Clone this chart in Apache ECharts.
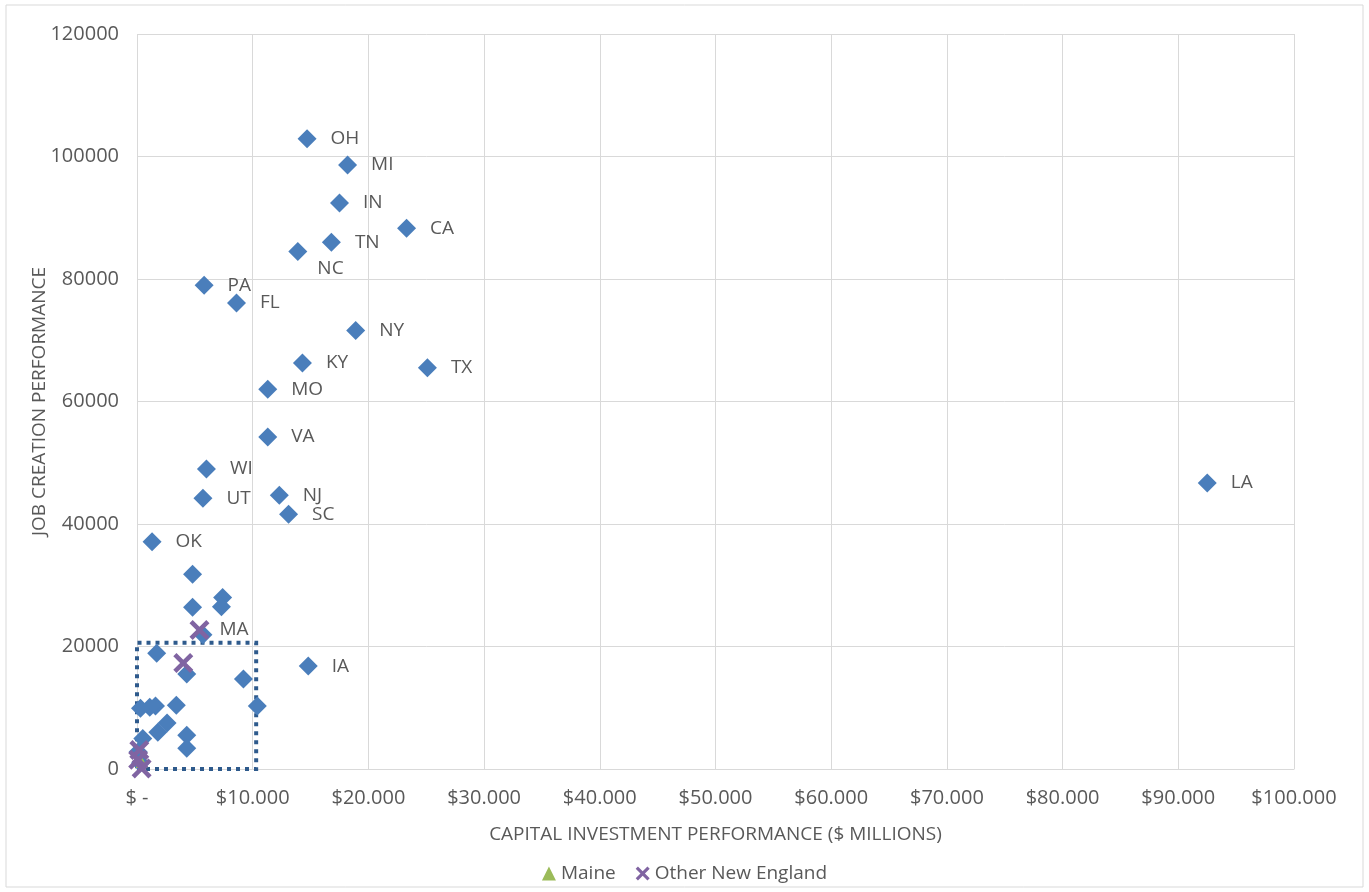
<!DOCTYPE html>
<html>
<head>
<meta charset="utf-8">
<script src="https://cdn.jsdelivr.net/npm/echarts@6/dist/echarts.min.js"></script>
<style>
html, body { margin: 0; padding: 0; background: #fff; }
#chart { width: 1369px; height: 892px; }
</style>
</head>
<body>
<div id="chart"></div>
<script>
// states with a label (empty string = unlabeled point)
var stateNames = ['OH', 'MI', 'IN', 'CA', 'TN', 'NC', 'PA', 'FL', 'NY', 'KY', 'TX', 'MO', 'VA', 'WI', 'UT', 'NJ', 'SC', 'OK', 'LA', 'IA',
	'', '', '', '', '', '', '', '', '', '', '', '', '', '', '', '', '', '', '', ''];
var stateCapital = [14.7, 18.2, 17.5, 23.3, 16.8, 13.9, 5.8, 8.6, 18.9, 14.3, 25.1, 11.3, 11.3, 6.0, 5.7, 12.3, 13.1, 1.3, 92.5, 14.8,
	4.8, 7.4, 7.3, 4.8, 5.7, 1.7, 4.3, 9.2, 10.4, 3.4, 1.6, 1.1, 0.3, 2.6, 1.8, 4.3, 4.3, 0.5, 0.3, 0.1];
var stateJobs = [102900, 98600, 92400, 88300, 86000, 84500, 79000, 76100, 71600, 66300, 65500, 62000, 54200, 49000, 44200, 44700, 41600, 37100, 46700, 16800,
	31800, 28000, 26500, 26400, 21900, 18900, 15500, 14700, 10300, 10400, 10300, 10100, 9900, 7500, 6000, 5500, 3400, 5000, 1000, 2800];

var maineCapital = [0.4];
var maineJobs = [1150];

var neNames = ['MA', '', '', '', ''];
var neCapital = [5.4, 4.0, 0.2, 0.1, 0.4];
var neJobs = [22700, 17300, 3100, 1500, 100];

var xTicks = { min: 0, max: 100, step: 10 };
var yTicks = { min: 0, max: 120000, step: 20000 };

var labelFont = 'Open Sans';
var titleFont = '"Liberation Sans Narrow", "Open Sans", sans-serif';
var grey = '#595959';

var stateData = stateNames.map(function(n, i) {
	var item = { value: [stateCapital[i], stateJobs[i]], name: n };
	if (n === 'NC') {
		item.label = { offset: [-4, 17] };
	}
	return item;
});
var maineData = maineCapital.map(function(v, i) { return [v, maineJobs[i]]; });
var neData = neNames.map(function(n, i) { return { value: [neCapital[i], neJobs[i]], name: n }; });

var xShape = 'path://M0,1.6 L1.6,0 L5,3.4 L8.4,0 L10,1.6 L6.6,5 L10,8.4 L8.4,10 L5,6.6 L1.6,10 L0,8.4 L3.4,5 Z';

var myChart = echarts.init(document.getElementById('chart'));
var option = {
	animation: false,
	backgroundColor: '#fff',
	graphic: [{
		type: 'rect',
		shape: { x: 6, y: 5, width: 1357, height: 882 },
		style: { fill: 'none', stroke: '#d9d9d9', lineWidth: 1 },
		z: -1
	}],
	grid: {
		left: 137,
		right: 75,
		top: 34,
		bottom: 123
	},
	legend: {
		bottom: 4,
		left: 'center',
		data: [
			{ name: 'Maine', icon: 'triangle' },
			{ name: 'Other New England', icon: xShape }
		],
		itemWidth: 14,
		itemHeight: 14,
		itemGap: 20,
		textStyle: { fontFamily: titleFont, fontSize: 19, color: grey }
	},
	xAxis: {
		type: 'value',
		min: xTicks.min,
		max: xTicks.max,
		interval: xTicks.step,
		name: 'CAPITAL INVESTMENT PERFORMANCE ($ MILLIONS)',
		nameLocation: 'middle',
		nameGap: 56,
		nameTextStyle: { fontFamily: titleFont, fontSize: 19, color: grey },
		axisLine: { lineStyle: { color: '#d9d9d9' } },
		axisTick: { show: false },
		splitLine: { lineStyle: { color: '#d9d9d9' } },
		axisLabel: {
			fontFamily: labelFont,
			fontSize: 20,
			color: grey,
			margin: 19,
			formatter: function(v) { return v === 0 ? '$ -' : '$' + v + '.000'; }
		}
	},
	yAxis: {
		type: 'value',
		min: yTicks.min,
		max: yTicks.max,
		interval: yTicks.step,
		name: 'JOB CREATION PERFORMANCE',
		nameLocation: 'middle',
		nameGap: 88,
		nameMoveOverlap: false,
		nameTextStyle: { fontFamily: titleFont, fontSize: 19, color: grey },
		axisLine: { show: false },
		axisTick: { show: false },
		splitLine: { lineStyle: { color: '#d9d9d9' } },
		axisLabel: {
			fontFamily: labelFont,
			fontSize: 20,
			color: grey,
			margin: 18,
			formatter: function(v) { return String(v); }
		}
	},
	series: [{
		name: 'States',
		type: 'scatter',
		symbol: 'diamond',
		symbolSize: [19, 19],
		itemStyle: { color: '#4A7EBB', opacity: 1 },
		label: {
			show: true,
			position: 'right',
			distance: 14,
			fontFamily: labelFont,
			fontSize: 19,
			color: grey,
			formatter: '{b}'
		},
		data: stateData,
		markArea: {
			silent: true,
			itemStyle: {
				color: 'rgba(0,0,0,0)',
				borderColor: '#2E5A8C',
				borderWidth: 4,
				borderType: [4, 5]
			},
			data: [[{ coord: [-0.1, 0] }, { coord: [10.3, 20600] }]]
		}
	}, {
		name: 'Maine',
		type: 'scatter',
		symbol: 'triangle',
		symbolSize: 12,
		itemStyle: { color: '#9BBB59', opacity: 1 },
		data: maineData
	}, {
		name: 'Other New England',
		type: 'scatter',
		symbol: xShape,
		symbolSize: 20,
		itemStyle: { color: '#8064A2', opacity: 1 },
		label: {
			show: true,
			position: 'right',
			distance: 10,
			fontFamily: labelFont,
			fontSize: 19,
			color: grey,
			formatter: '{b}'
		},
		data: neData
	}]
};
myChart.setOption(option);
</script>
</body>
</html>
